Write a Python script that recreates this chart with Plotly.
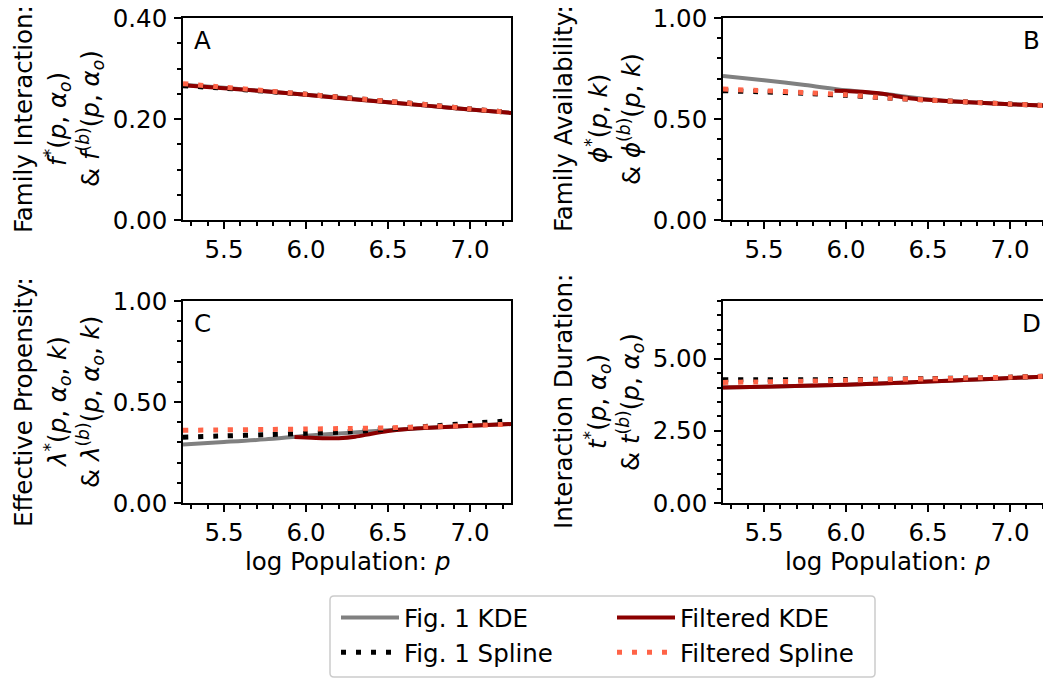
import plotly.graph_objects as go

# ---------------- data ----------------
p_grid = [5.25, 5.5, 5.75, 6.0, 6.25, 6.5, 6.75, 7.0, 7.25]

# Panel A: family interaction
A_fig1_kde = [0.268, 0.262, 0.255, 0.248, 0.241, 0.233, 0.226, 0.219, 0.212]
A_filt_kde = [0.267, 0.261, 0.255, 0.248, 0.240, 0.233, 0.226, 0.219, 0.212]
A_fig1_spline = [0.266, 0.261, 0.255, 0.249, 0.242, 0.235, 0.228, 0.220, 0.213]
A_filt_spline = [0.270, 0.263, 0.256, 0.249, 0.242, 0.235, 0.228, 0.220, 0.213]

# Panel B: family availability
B_fig1_kde = [0.713, 0.692, 0.668, 0.642, 0.622, 0.597, 0.583, 0.573, 0.565]
B_filt_p = [5.93, 6.0, 6.1, 6.2, 6.3, 6.4, 6.5, 6.75, 7.0, 7.25]
B_filt_kde = [0.640, 0.638, 0.635, 0.627, 0.614, 0.602, 0.595, 0.583, 0.573, 0.565]
B_fig1_spline = [0.640, 0.634, 0.627, 0.617, 0.604, 0.594, 0.584, 0.574, 0.565]
B_filt_spline = [0.648, 0.640, 0.631, 0.620, 0.604, 0.594, 0.584, 0.574, 0.565]

# Panel C: effective propensity
C_fig1_kde = [0.290, 0.302, 0.315, 0.333, 0.347, 0.360, 0.372, 0.382, 0.391]
C_filt_p = [5.93, 6.0, 6.1, 6.2, 6.3, 6.4, 6.5, 6.6, 6.75, 7.0, 7.25]
C_filt_kde = [0.327, 0.324, 0.321, 0.321, 0.328, 0.343, 0.356, 0.365, 0.372, 0.382, 0.391]
C_fig1_spline = [0.326, 0.332, 0.338, 0.345, 0.352, 0.366, 0.380, 0.394, 0.407]
C_filt_spline = [0.360, 0.362, 0.364, 0.366, 0.369, 0.372, 0.378, 0.384, 0.390]

# Panel D: interaction duration
D_fig1_kde = [4.00, 4.03, 4.06, 4.10, 4.15, 4.21, 4.27, 4.33, 4.39]
D_filt_kde = [4.00, 4.03, 4.06, 4.10, 4.15, 4.21, 4.27, 4.33, 4.39]
D_fig1_spline = [4.27, 4.27, 4.27, 4.28, 4.29, 4.31, 4.33, 4.36, 4.40]
D_filt_spline = [4.18, 4.20, 4.22, 4.25, 4.28, 4.30, 4.33, 4.36, 4.40]

series_names = ["Fig. 1 KDE", "Filtered KDE", "Fig. 1 Spline", "Filtered Spline"]

panel_letters = ["A", "B", "C", "D"]
y_titles = [
    ["Family Interaction:",
     "<i>f</i><sup>*</sup>(<i>p</i>, <i>α<sub>o</sub></i>)",
     "&amp; <i>f</i><sup>(<i>b</i>)</sup>(<i>p</i>, <i>α<sub>o</sub></i>)"],
    ["Family Availability:",
     "<i>ϕ</i><sup>*</sup>(<i>p</i>, <i>k</i>)",
     "&amp; <i>ϕ</i><sup>(<i>b</i>)</sup>(<i>p</i>, <i>k</i>)"],
    ["Effective Propensity:",
     "<i>λ</i><sup>*</sup>(<i>p</i>, <i>α<sub>o</sub></i>, <i>k</i>)",
     "&amp; <i>λ</i><sup>(<i>b</i>)</sup>(<i>p</i>, <i>α<sub>o</sub></i>, <i>k</i>)"],
    ["Interaction Duration:",
     "<i>t</i><sup>*</sup>(<i>p</i>, <i>α<sub>o</sub></i>)",
     "&amp; <i>t</i><sup>(<i>b</i>)</sup>(<i>p</i>, <i>α<sub>o</sub></i>)"],
]
x_title = "log Population: <i>p</i>"

# ---------------- layout geometry (pixels) ----------------
W, H = 1043, 679
FONT = "DejaVu Sans"
FS = 24.5

def fx(v):
    return v / W

def fy(v):
    return 1 - v / H

PW = 328  # panel width in px (2.0 units of p)
panels = [
    dict(left=183, top=18, bottom=220, yr=[0, 0.4], dt=0.2, mdt=0.05, tl=[23, 57, 90]),
    dict(left=723, top=18, bottom=220, yr=[0, 1.0], dt=0.5, mdt=0.1, tl=[563, 597, 630]),
    dict(left=183, top=301, bottom=503, yr=[0, 1.0], dt=0.5, mdt=0.1, tl=[23, 57, 90]),
    dict(left=723, top=301, bottom=503, yr=[0, 7.0], dt=2.5, mdt=0.5, tl=[563, 597, 630]),
]

data = [
    (p_grid, A_fig1_kde, p_grid, A_filt_kde, A_fig1_spline, A_filt_spline),
    (p_grid, B_fig1_kde, B_filt_p, B_filt_kde, B_fig1_spline, B_filt_spline),
    (p_grid, C_fig1_kde, C_filt_p, C_filt_kde, C_fig1_spline, C_filt_spline),
    (p_grid, D_fig1_kde, p_grid, D_filt_kde, D_fig1_spline, D_filt_spline),
]

colors = ["#808080", "#8b0000", "#000000", "#ff6347"]
legend_of = ["legend", "legend2", "legend", "legend2"]
DOT = "5px,10px"

fig = go.Figure()
layout = dict(
    width=W, height=H, margin=dict(l=0, r=0, t=0, b=0, autoexpand=False),
    paper_bgcolor="white", plot_bgcolor="white",
    font=dict(family=FONT, size=FS, color="black"),
    showlegend=True,
)
annotations = []

for i, (pn, d) in enumerate(zip(panels, data)):
    sfx = "" if i == 0 else str(i + 1)
    xa, ya = "x" + sfx, "y" + sfx
    px, fkde, fp, filt_kde, fspl, filt_spl = d
    traces = [
        (px, fkde, colors[0], None, 4),
        (fp, filt_kde, colors[1], None, 4),
        (px, fspl, colors[2], DOT, 5),
        (px, filt_spl, colors[3], DOT, 5),
    ]
    for k, (xx, yy, c, dash, w) in enumerate(traces):
        line = dict(color=c, width=w, shape="spline", smoothing=0.8)
        if dash:
            line["dash"] = dash
        fig.add_trace(go.Scatter(
            x=xx, y=yy, mode="lines", line=line, name=series_names[k],
            legend=legend_of[k], legendgroup=series_names[k],
            xaxis=xa, yaxis=ya, showlegend=(i == 0), hoverinfo="skip"))

    right = min(pn["left"] + PW, W)
    xmax = 5.25 + (right - pn["left"]) / PW * 2.0
    clipped = pn["left"] + PW > W
    ax_common = dict(
        showline=True, linecolor="black", linewidth=1.6,
        ticks="outside", ticklen=7, tickwidth=1.6, tickcolor="black",
        showgrid=False, zeroline=False, automargin=False,
        tickfont=dict(family=FONT, size=FS, color="black"),
    )
    layout["xaxis" + sfx] = dict(
        ax_common, domain=[fx(pn["left"]), fx(right)], anchor=ya,
        range=[5.25, xmax], tick0=5.5, dtick=0.5, tickformat=".1f",
        mirror=True, ticklabelstandoff=0,
        minor=dict(ticks="outside", ticklen=4, tickwidth=1.6, tickcolor="black",
                   tick0=5.0, dtick=0.1, showgrid=False),
    )
    layout["yaxis" + sfx] = dict(
        ax_common, domain=[fy(pn["bottom"]), fy(pn["top"])], anchor=xa,
        range=pn["yr"], tick0=0, dtick=pn["dt"], tickformat=".2f",
        mirror=(not clipped), ticklabelstandoff=2,
        minor=dict(ticks="outside", ticklen=4, tickwidth=1.6, tickcolor="black",
                   tick0=0, dtick=pn["mdt"], showgrid=False),
    )

    cy = (pn["top"] + pn["bottom"]) / 2
    for line_txt, lx in zip(y_titles[i], pn["tl"]):
        annotations.append(dict(
            text=line_txt, x=fx(lx), y=fy(cy), xref="paper", yref="paper",
            xanchor="center", yanchor="middle", textangle=-90, showarrow=False,
            font=dict(family=FONT, size=FS, color="black")))

    # panel letter
    lxp = pn["left"] + 19 if i % 2 == 0 else 1031
    annotations.append(dict(
        text=panel_letters[i], x=fx(lxp), y=fy(pn["top"] + 22), xref="paper", yref="paper",
        xanchor="center", yanchor="middle", showarrow=False,
        font=dict(family=FONT, size=FS, color="black")))

    # x axis title for bottom row
    if i >= 2:
        annotations.append(dict(
            text=x_title, x=fx(pn["left"] + PW / 2), y=fy(561), xref="paper", yref="paper",
            xanchor="center", yanchor="middle", showarrow=False,
            font=dict(family=FONT, size=FS, color="black")))

layout["annotations"] = annotations

leg_common = dict(
    orientation="v", xanchor="left", yanchor="top", y=fy(595),
    borderwidth=0, bgcolor="rgba(0,0,0,0)", itemwidth=58,
    font=dict(family=FONT, size=FS, color="black"),
    traceorder="grouped", tracegroupgap=0,
)
layout["legend"] = dict(leg_common, x=fx(336))
layout["legend2"] = dict(leg_common, x=fx(612))

# legend frame (rounded rectangle in paper coords)
x0, x1, y0, y1 = 330, 875, 596, 677
r = 4
path = (f"M {fx(x0 + r)} {fy(y0)} L {fx(x1 - r)} {fy(y0)} Q {fx(x1)} {fy(y0)} {fx(x1)} {fy(y0 + r)} "
        f"L {fx(x1)} {fy(y1 - r)} Q {fx(x1)} {fy(y1)} {fx(x1 - r)} {fy(y1)} "
        f"L {fx(x0 + r)} {fy(y1)} Q {fx(x0)} {fy(y1)} {fx(x0)} {fy(y1 - r)} "
        f"L {fx(x0)} {fy(y0 + r)} Q {fx(x0)} {fy(y0)} {fx(x0 + r)} {fy(y0)} Z")
layout["shapes"] = [dict(type="path", path=path, xref="paper", yref="paper",
                         line=dict(color="#cccccc", width=1.5), fillcolor="rgba(0,0,0,0)",
                         layer="below")]

fig.update_layout(**layout)
fig.write_html("out.html")
